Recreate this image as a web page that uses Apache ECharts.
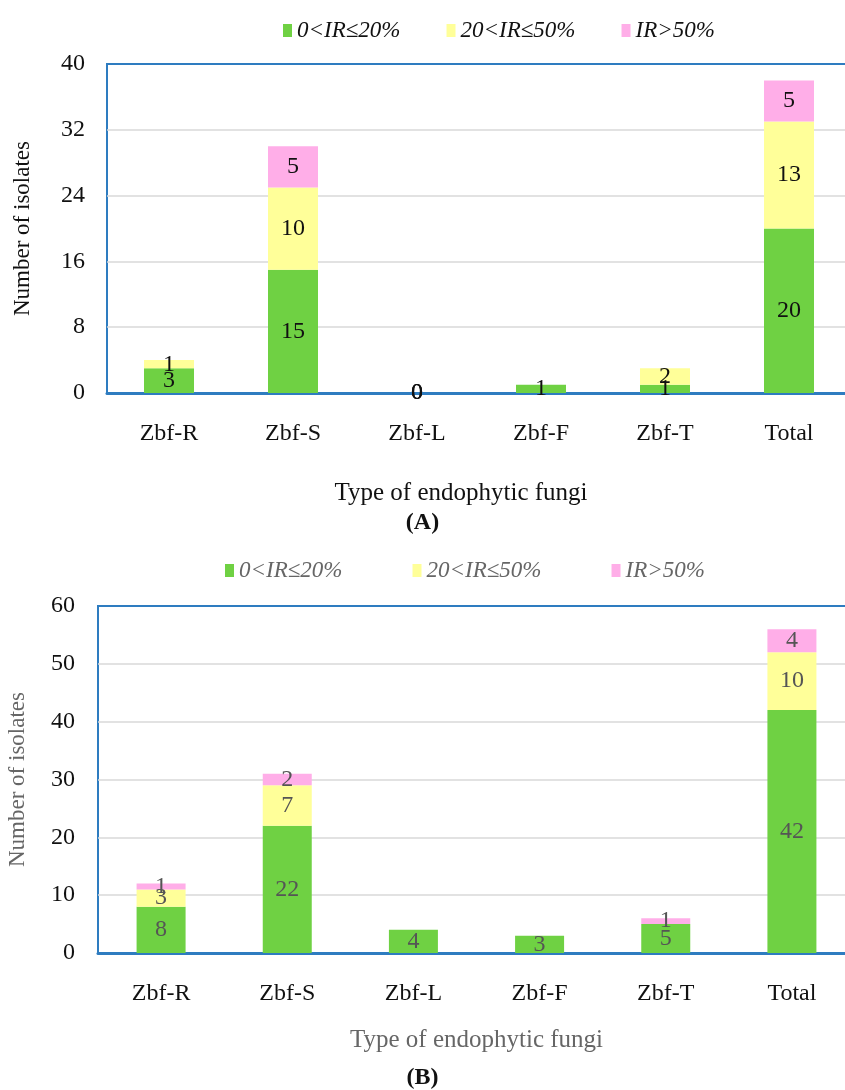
<!DOCTYPE html>
<html>
<head>
<meta charset="utf-8">
<script src="https://cdn.jsdelivr.net/npm/echarts@6/dist/echarts.min.js"></script>
<style>
  html, body { margin: 0; padding: 0; background: #fff; }
  #chart { width: 845px; height: 1090px; }
</style>
</head>
<body>
<div id="chart"></div>
<script>
// Endophytic fungi isolates grouped by inhibition rate (IR)
const categories = ['Zbf-R', 'Zbf-S', 'Zbf-L', 'Zbf-F', 'Zbf-T', 'Total'];
const rangeNames = ['0<IR\u226420%', '20<IR\u226450%', 'IR>50%'];

// Panel A (null = empty cell, no bar and no label)
const aLow  = [3, 15, 0, 1, 1, 20];
const aMid  = [1, 10, 0, null, 2, 13];
const aHigh = [null, 5, 0, null, null, 5];
const aTicks = { min: 0, max: 40, interval: 8 };

// Panel B
const bLow  = [8, 22, 4, 3, 5, 42];
const bMid  = [3, 7, null, null, null, 10];
const bHigh = [1, 2, null, null, 1, 4];
const bTicks = { min: 0, max: 60, interval: 10 };

const colors = ['#6fd143', '#ffff99', '#ffaee8'];
const FONT = '"Liberation Serif", "Times New Roman", serif';
const BLUE = '#2e7cc0';

function stackSeries(gridIdx, values, labelColor, barW) {
  return values.map((vals, i) => ({
    name: rangeNames[i],
    type: 'bar',
    stack: 'g' + gridIdx,
    xAxisIndex: gridIdx,
    yAxisIndex: gridIdx,
    barWidth: barW,
    data: vals,
    itemStyle: { color: colors[i] },
    label: {
      show: true,
      position: 'inside',
      fontFamily: FONT,
      fontSize: 24,
      color: labelColor,
      formatter: p => (p.value === null || p.value === undefined ? '' : String(p.value))
    },
    emphasis: { disabled: true }
  }));
}

function xAxisFor(gridIdx, nameColor, nameGap, namePad) {
  return {
    type: 'category',
    gridIndex: gridIdx,
    data: categories,
    name: 'Type of endophytic fungi',
    nameLocation: 'middle',
    nameGap: nameGap,
    nameTextStyle: { fontFamily: FONT, fontSize: 25, color: nameColor, padding: namePad },
    axisLine: { lineStyle: { color: BLUE, width: 3 } },
    axisTick: { show: false },
    axisLabel: { fontFamily: FONT, fontSize: 24, color: '#111', margin: 29 }
  };
}

function yAxisFor(gridIdx, ticks, nameColor, nameGap, labelMargin) {
  return {
    type: 'value',
    gridIndex: gridIdx,
    min: ticks.min,
    max: ticks.max,
    interval: ticks.interval,
    name: 'Number of isolates',
    nameLocation: 'middle',
    nameGap: nameGap,
    nameTextStyle: { fontFamily: FONT, fontSize: 23, color: nameColor },
    axisLine: { show: false },
    axisTick: { show: false },
    axisLabel: { fontFamily: FONT, fontSize: 24, color: '#111', margin: labelMargin },
    splitLine: { showMinLine: false, showMaxLine: false, lineStyle: { color: '#d9d9d9', width: 1.5 } }
  };
}

const legendText = (color) => ({ fontFamily: FONT, fontSize: 23, fontStyle: 'italic', color: color });

// Plot areas run past the right edge of the canvas, so their right border is not seen
const option = {
  animation: false,
  backgroundColor: '#fff',
  grid: [
    { left: 107, width: 744, top: 64, height: 329, outerBoundsMode: 'none', containLabel: false,
      show: true, borderColor: BLUE, borderWidth: 2, backgroundColor: 'transparent' },
    { left: 98, width: 757, top: 606, height: 347, outerBoundsMode: 'none', containLabel: false,
      show: true, borderColor: BLUE, borderWidth: 2, backgroundColor: 'transparent' }
  ],
  legend: [
    {
      data: rangeNames, top: 14, left: 278, itemGap: 46,
      itemWidth: 9, itemHeight: 13, icon: 'rect',
      textStyle: legendText('#111'), selectedMode: false
    },
    {
      data: rangeNames, top: 554, left: 220, itemGap: 70,
      itemWidth: 9, itemHeight: 13, icon: 'rect',
      textStyle: legendText('#666'), selectedMode: false
    }
  ],
  xAxis: [xAxisFor(0, '#111', 88, [0, 36, 0, 0]), xAxisFor(1, '#666', 75, 0)],
  yAxis: [yAxisFor(0, aTicks, '#111', 73, 22), yAxisFor(1, bTicks, '#666', 69, 23)],
  series: [
    ...stackSeries(0, [aLow, aMid, aHigh], '#111', 50),
    ...stackSeries(1, [bLow, bMid, bHigh], '#555', 49)
  ],
  graphic: [
    { type: 'text', left: 'center', top: 511, style: { text: '(A)', font: 'bold 24px ' + FONT, fill: '#111' } },
    { type: 'text', left: 'center', top: 1066, style: { text: '(B)', font: 'bold 24px ' + FONT, fill: '#111' } }
  ]
};

const chart = echarts.init(document.getElementById('chart'), null, { renderer: 'canvas' });
chart.setOption(option);
</script>
</body>
</html>
